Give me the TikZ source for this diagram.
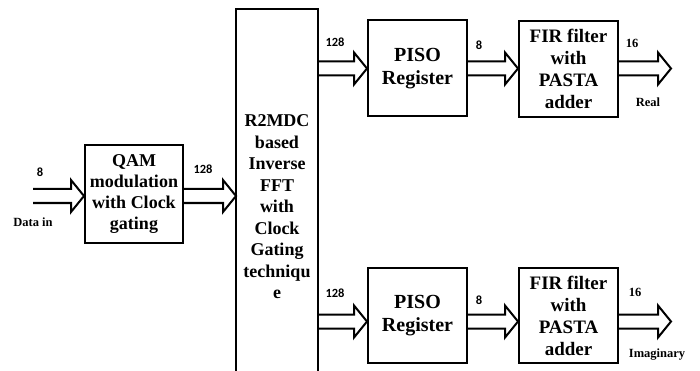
\documentclass[tikz,border=0pt]{standalone}
\usepackage{fontspec}
\setmainfont{Liberation Serif}
\newfontfamily\calfont{Carlito}
\usetikzlibrary{calc}
\newcommand{\busarrow}[2]{% hollow bus arrow from (#1) to (#2), kept on the row of (#1)
  \draw[line width=2pt, line join=miter] let \p1=(#1), \p2=(#2) in
    (\x1,\y1+7pt) -- (\x2-13pt,\y1+7pt) -- (\x2-13pt,\y1+16pt) -- (\x2,\y1)
    -- (\x2-13pt,\y1-16pt) -- (\x2-13pt,\y1-7pt) -- (\x1,\y1-7pt);
}
\tikzset{
  blk/.style={draw, line width=2pt, align=center, inner sep=0pt},
  width/.style={font=\calfont\bfseries\fontsize{12.5}{12.5}\selectfont},
  side/.style={font=\bfseries\fontsize{12.5}{13}\selectfont},
}

\begin{document}
\begin{tikzpicture}[x=1pt,y=1pt]
  \useasboundingbox (0,0) rectangle (700,-371);
  \coordinate (bot) at (0,-371);
  % blocks
  \node[blk, minimum width=98pt, minimum height=98pt, font=\bfseries\fontsize{18}{21}\selectfont]
    (qam) at (134,-194) {QAM\\modulation\\with Clock\\gating};
  \node[blk, draw=none, minimum width=80pt, minimum height=394pt, font=\bfseries\fontsize{18}{21.5}\selectfont]
    (fft) at (277,-207) {R2MDC\\based\\Inverse\\FFT\\with\\Clock\\Gating\\techniqu\\e};
  \draw[line width=2pt] (fft.west |- bot) -- (fft.north west) -- (fft.north east) -- (fft.east |- bot);
  \node[blk, minimum width=99pt, minimum height=96pt, font=\bfseries\fontsize{20}{23}\selectfont]
    (piso1) at (417.5,-68.5) {PISO\\Register};
  \node[blk, minimum width=99pt, minimum height=96pt, font=\bfseries\fontsize{19}{22}\selectfont]
    (fir1) at (568.5,-69) {FIR filter\\with\\PASTA\\adder};
  \node[blk, minimum width=99pt, minimum height=95pt, font=\bfseries\fontsize{20}{23}\selectfont]
    (piso2) at (417.5,-315.5) {PISO\\Register};
  \node[blk, minimum width=99pt, minimum height=95pt, font=\bfseries\fontsize{19}{22}\selectfont]
    (fir2) at (568.5,-315.5) {FIR filter\\with\\PASTA\\adder};
  % bus arrows
  \coordinate (datain) at (33,-196);
  \coordinate (realout) at (671,-68.5);
  \coordinate (imagout) at (671,-321.5);
  \busarrow{datain}{qam.west}
  \busarrow{$(qam.east)+(0,-2)$}{fft.west}
  \busarrow{fft.east |- piso1.west}{piso1.west}
  \busarrow{piso1.east}{fir1.west}
  \busarrow{fir1.east |- realout}{realout}
  \busarrow{$(fft.east |- piso2.west)+(0,-6)$}{piso2.west}
  \busarrow{$(piso2.east)+(0,-6)$}{fir2.west}
  \busarrow{fir2.east |- imagout}{imagout}
  % widths and names
  \node[width] (w1) at (40,-172) {8};
  \node[side] (din) at (33,-222) {Data in};
  \node[width] (w2) at (203,-169) {128};
  \node[width] (w3) at (335,-42) {128};
  \node[width] (w4) at (479,-45) {8};
  \node[side] (w5) at (632,-43) {16};
  \node[side] (re) at (648,-102) {Real};
  \node[width] (w6) at (335,-293) {128};
  \node[width] (w7) at (479,-300) {8};
  \node[side] (w8) at (635,-292) {16};
  \node[side] (im) at (657,-355) {Imaginary};
\end{tikzpicture}
\end{document}
